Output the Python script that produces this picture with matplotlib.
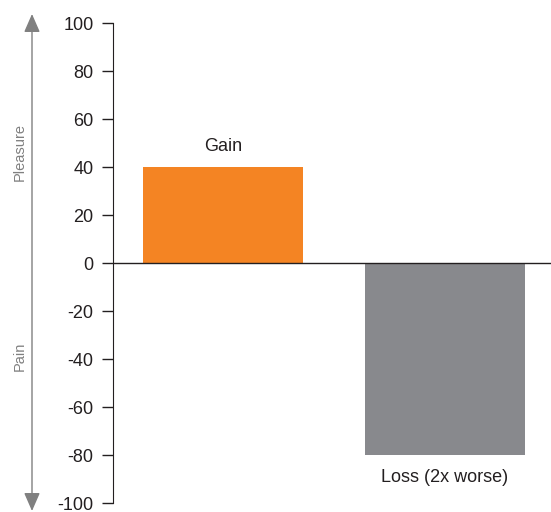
import matplotlib
matplotlib.use("Agg")
import matplotlib.pyplot as plt

categories = ["Gain", "Loss (2x worse)"]
values = [40, -80]
colors = ["#F48423", "#88898D"]
yticks = [100, 80, 60, 40, 20, 0, -20, -40, -60, -80, -100]

plt.rcParams['font.family'] = ['Liberation Sans', 'DejaVu Sans']

W, H = 551, 512
fig = plt.figure(figsize=(W/100, H/100), dpi=100)
ax = fig.add_axes([113/W, 1-503/H, (551-113)/W, 480/H])

x = [0, 1]
ax.bar(x, values, width=0.72, color=colors, zorder=2)
ax.set_xlim(-0.495, 1.477)
ax.set_ylim(-100, 100)
ax.set_yticks(yticks)
ax.set_yticklabels([str(t) for t in yticks], fontsize=13, color="#231f20")
ax.tick_params(axis='y', length=8, width=1, color="#231f20", pad=6)
ax.set_xticks([])
for s in ['top', 'right', 'bottom']:
    ax.spines[s].set_visible(False)
ax.spines['left'].set_color("#231f20")
ax.axhline(0, color="#231f20", lw=1, zorder=3)

ax.text(0, 40 + 5, categories[0], ha='center', va='bottom', fontsize=13, color="#231f20")
ax.text(1, -80 - 6, categories[1], ha='center', va='top', fontsize=13, color="#231f20")

# Pleasure / Pain arrow
ax2 = fig.add_axes([0, 0, 1, 1], facecolor='none')
ax2.set_xlim(0, W)
ax2.set_ylim(H, 0)
ax2.axis('off')
ax2.annotate('', xy=(32, 14), xytext=(32, 511),
             arrowprops=dict(arrowstyle='<|-|>,head_length=0.8,head_width=0.35', color='#808080', lw=1,
                             mutation_scale=14, shrinkA=0, shrinkB=0))
ax2.text(20, 152, 'Pleasure', rotation=90, ha='center', va='center', fontsize=10.5, color='#808080')
ax2.text(20, 356, 'Pain', rotation=90, ha='center', va='center', fontsize=10.5, color='#808080')

fig.savefig("out.png", dpi=100)
